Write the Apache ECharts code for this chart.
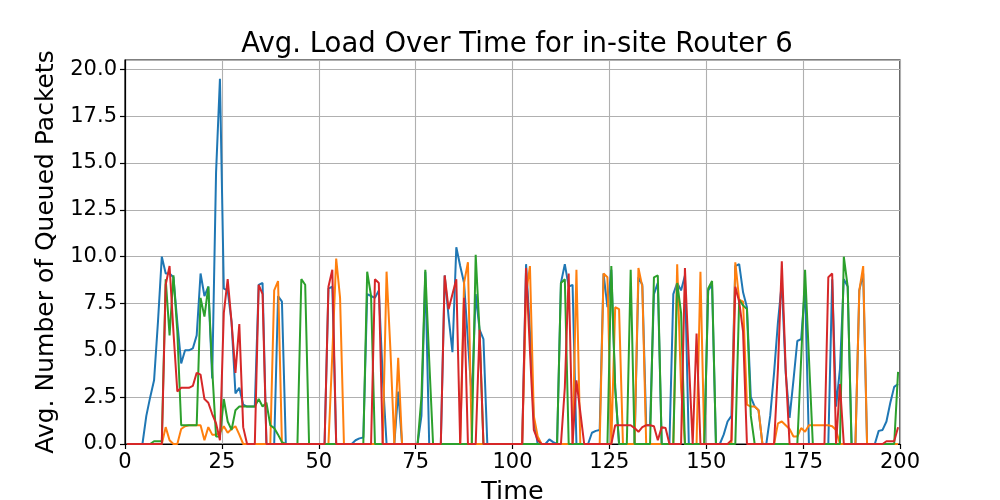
<!DOCTYPE html>
<html>
<head>
<meta charset="utf-8">
<script src="https://cdn.jsdelivr.net/npm/echarts@6/dist/echarts.min.js"></script>
<style>
  html, body { margin: 0; padding: 0; background: #fff; }
  #chart { width: 1000px; height: 500px; }
</style>
</head>
<body>
<div id="chart"></div>
<script>
// =========================
// DATA (one value per time step, centred on k + 0.5)
// =========================

const time = Array.from({ length: 200 }, (_, i) => i + 0.5);

const xTicks = [0, 25, 50, 75, 100, 125, 150, 175, 200];
const yTicks = [0, 2.5, 5, 7.5, 10, 12.5, 15, 17.5, 20];

const seriesNames = ["Router 6 - port 0", "Router 6 - port 1", "Router 6 - port 2", "Router 6 - port 3"];
const seriesColors = ["#1f77b4", "#ff7f0e", "#2ca02c", "#d62728"];

const blue = [
  0, 0, 0, 0, 0, 1.5, 2.5, 3.4, 6.5, 10.0,
  9.1, 9.1, 8.9, 6.5, 4.3, 5.0, 5.0, 5.1, 5.8, 9.1,
  7.9, 8.4, 3.5, 14.5, 19.5, 8.3, 8.2, 6.5, 2.7, 3.0,
  2.1, 2.0, 2.0, 2.0, 8.5, 8.6, 0, 0, 0, 7.9,
  7.6, 0, 0, 0, 0, 0, 0, 0, 0, 0,
  0, 0, 8.3, 8.4, 0, 0, 0, 0, 0, 0.2,
  0.3, 0.35, 8.0, 7.9, 7.8, 8.2, 3.6, 0, 0, 0,
  2.8, 0, 0, 0, 0, 0, 1.5, 9.2, 0, 0,
  0, 0, 9.0, 6.8, 4.9, 10.5, 9.5, 8.6, 5.5, 2.4,
  8.0, 6.1, 5.6, 0, 0, 0, 0, 0, 0, 0,
  0, 0, 0, 9.6, 6.0, 1.3, 0, 0, 0, 0.25,
  0.1, 0, 8.6, 9.6, 8.4, 8.5, 0, 0, 0, 0,
  0.6, 0.7, 0.75, 9.1, 7.3, 9.3, 3.0, 0, 0, 0,
  0, 0, 8.9, 8.5, 1.0, 1.0, 8.0, 8.6, 0, 0,
  0, 8.0, 8.6, 8.2, 9.0, 0, 0, 0, 0, 0,
  8.2, 8.5, 0, 0, 0.5, 1.2, 1.5, 9.5, 9.6, 8.1,
  7.3, 2.5, 2.0, 1.8, 0, 0, 1.5, 3.8, 6.5, 8.6,
  3.8, 1.4, 3.4, 5.5, 5.6, 8.4, 0, 0, 0, 0,
  0, 0, 8.8, 2.0, 4.0, 8.8, 8.4, 0, 0, 8.2,
  9.1, 0, 0, 0, 0.7, 0.75, 1.2, 2.2, 3.05, 3.2
];

const orange = [
  0, 0, 0, 0, 0, 0, 0, 0, 0, 0,
  0.9, 0.2, 0, 0, 0.8, 0.95, 1.0, 1.0, 1.0, 1.0,
  0.2, 0.9, 0.5, 0.5, 0.6, 0.95, 0.6, 0.8, 0.95, 0.5,
  0, 0, 0, 0, 0, 0, 0, 0, 8.2, 8.7,
  0, 0, 0, 0, 0, 0, 0, 0, 0, 0,
  0, 0, 0, 4.8, 9.9, 7.8, 0, 0, 0, 0,
  0, 0, 0, 0, 0, 0, 0, 9.2, 5.0, 0,
  4.6, 0, 0, 0, 0, 0, 0, 0, 0, 0,
  0, 0, 0, 0, 0, 0, 0, 8.6, 9.7, 0,
  0, 0, 0, 0, 0, 0, 0, 0, 0, 0,
  0, 0, 0, 8.0, 9.5, 1.5, 0.4, 0, 0, 0,
  0, 0, 0, 0, 0, 0, 9.3, 0, 0, 0,
  0, 0, 0, 9.1, 8.9, 0, 7.3, 7.2, 0, 0,
  0, 0, 9.4, 8.4, 0, 0, 0, 0, 0, 0,
  0, 0, 9.6, 3.0, 0, 0, 0, 0, 9.2, 0,
  0, 0, 0, 0, 0, 0, 0, 9.7, 7.7, 7.6,
  2.1, 2.0, 2.0, 1.8, 0, 0, 0, 0, 1.1, 1.2,
  1.0, 0.8, 0.4, 0.4, 0.85, 0.65, 1.0, 1.0, 1.0, 1.0,
  1.0, 1.0, 0.95, 0.75, 0, 0, 0, 0, 0, 8.2,
  9.5, 0, 0, 0, 0, 0, 0, 0, 0, 0
];

const green = [
  0, 0, 0, 0, 0, 0, 0, 0.15, 0.15, 0.15,
  8.8, 5.8, 9.0, 6.0, 1.0, 1.0, 1.0, 1.0, 1.0, 7.8,
  6.8, 8.4, 4.0, 0.4, 0.4, 2.4, 1.2, 0.75, 1.8, 2.0,
  2.0, 2.0, 2.0, 2.0, 2.4, 2.0, 2.2, 1.0, 0.85, 0.5,
  0.1, 0, 0, 0, 0, 8.8, 8.5, 0, 0, 0,
  0, 0, 0, 0, 0, 0, 0, 0, 0, 0,
  0, 0, 9.2, 7.9, 0, 0, 0, 0, 0, 0,
  0, 0, 0, 0, 0, 0, 2.5, 9.3, 4.5, 0,
  0, 0, 0, 0, 0, 0, 0, 0, 0, 0,
  10.1, 6.0, 0, 0, 0, 0, 0, 0, 0, 0,
  0, 0, 0, 0, 0, 0, 0, 0, 0, 0,
  0, 0, 8.6, 8.8, 0, 0, 0, 0, 0, 0,
  0, 0, 0, 0, 0, 9.5, 3.0, 0, 0, 0,
  9.3, 0, 0, 0, 0, 0, 8.9, 9.0, 0, 0,
  0, 0, 8.6, 7.0, 0, 0, 0, 0, 0, 0,
  8.3, 8.7, 0, 0, 0, 0, 0, 0, 7.7, 7.4,
  7.2, 1.5, 0, 0, 0, 0, 0, 0, 0, 0,
  0, 0, 0, 0, 4.6, 9.3, 4.6, 0, 0, 0,
  0, 0, 0, 0, 0, 10.0, 8.4, 0, 0, 0,
  0, 0, 0, 0, 0, 0, 0, 0, 0, 3.85
];

const red = [
  0, 0, 0, 0, 0, 0, 0, 0, 0, 0,
  8.5, 9.5, 6.0, 2.8, 3.0, 3.0, 3.0, 3.1, 3.8, 3.7,
  2.4, 2.2, 1.6, 1.1, 0.2, 7.0, 8.8, 6.5, 3.8, 6.4,
  0.9, 0, 0, 0, 8.5, 8.0, 0, 0, 0, 0,
  0, 0, 0, 0, 0, 0, 0, 0, 0, 0,
  0, 0, 8.4, 9.3, 0, 0, 0, 0, 0, 0,
  0, 0, 0, 0, 8.8, 8.6, 0, 0, 0, 0,
  0, 0, 0, 0, 0, 0, 0, 0, 0, 0,
  0, 0, 9.0, 7.2, 8.0, 8.8, 0, 7.8, 0, 0,
  0, 6.1, 0, 0, 0, 0, 0, 0, 0, 0,
  0, 0, 0, 9.4, 5.0, 0.75, 0.2, 0, 0, 0,
  0, 0, 0, 3.0, 9.1, 0, 3.4, 1.7, 0, 0,
  0, 0, 0, 0, 0, 0, 1.0, 1.0, 1.0, 1.0,
  1.0, 0.85, 0.65, 0.9, 1.0, 1.0, 0.95, 0.2, 0.9, 0.85,
  0, 0, 0, 0, 9.4, 4.5, 0, 5.9, 0, 0,
  0, 0, 0, 0, 0, 0, 0.2, 8.4, 7.6, 6.0,
  0, 0, 0, 0, 0, 0, 0, 0, 4.0, 9.75,
  4.0, 0, 0, 0, 0, 0, 0, 0, 0, 0,
  0, 8.9, 9.1, 0, 3.2, 0, 0, 0, 0, 0,
  0, 0, 0, 0, 0, 0, 0.15, 0.15, 0.15, 0.9
];

const seriesValues = [blue, orange, green, red];


// =========================
// CHART
// =========================

const FONT = "DejaVu Sans";

const chart = echarts.init(document.getElementById("chart"), null, { renderer: "canvas" });

chart.setOption({
  animation: false,
  backgroundColor: "#ffffff",
  title: {
    text: "Avg. Load Over Time for in-site Router 6",
    left: 512,
    top: 26,
    textAlign: "center",
    textStyle: { fontFamily: FONT, fontSize: 27.5, fontWeight: "normal", color: "#000" }
  },
  grid: {
    left: 125, right: 100, top: 60, bottom: 56,
    outerBoundsMode: "none",
    containLabel: false,
    show: true, borderColor: "#000", borderWidth: 1.2, backgroundColor: "#fff"
  },
  xAxis: {
    type: "value",
    min: 0, max: 200, interval: 25,
    name: "Time",
    nameLocation: "middle",
    nameGap: 35,
    nameTextStyle: { fontFamily: FONT, fontSize: 25.5, color: "#000" },
    axisLine: { show: true, lineStyle: { color: "#000", width: 1.2 } },
    axisTick: { show: true, length: 5, lineStyle: { color: "#000", width: 1.2 } },
    axisLabel: {
      margin: 8, fontFamily: FONT, fontSize: 21, color: "#000",
      formatter: v => (xTicks.includes(v) ? String(v) : "")
    },
    splitLine: { show: true, lineStyle: { color: "#b0b0b0", width: 1.1 } }
  },
  yAxis: {
    type: "value",
    min: 0, max: 20.5, interval: 2.5,
    name: "Avg. Number of Queued Packets",
    nameLocation: "middle",
    nameRotate: 90,
    nameGap: 64,
    nameTextStyle: { fontFamily: FONT, fontSize: 25, color: "#000" },
    axisLine: { show: true, lineStyle: { color: "#000", width: 1.2 } },
    axisTick: { show: true, length: 5, lineStyle: { color: "#000", width: 1.2 } },
    axisLabel: {
      margin: 8, fontFamily: FONT, fontSize: 21, color: "#000",
      showMaxLabel: false,
      formatter: v => (yTicks.includes(v) ? v.toFixed(1) : "")
    },
    splitLine: { show: true, lineStyle: { color: "#b0b0b0", width: 1.1 } }
  },
  series: seriesValues.map((vals, i) => ({
    name: seriesNames[i],
    type: "line",
    data: time.map((t, k) => [t, vals[k]]),
    showSymbol: false,
    symbol: "none",
    clip: true,
    z: 2 + i,
    lineStyle: { color: seriesColors[i], width: 2 },
    itemStyle: { color: seriesColors[i] }
  }))
});
</script>
</body>
</html>
